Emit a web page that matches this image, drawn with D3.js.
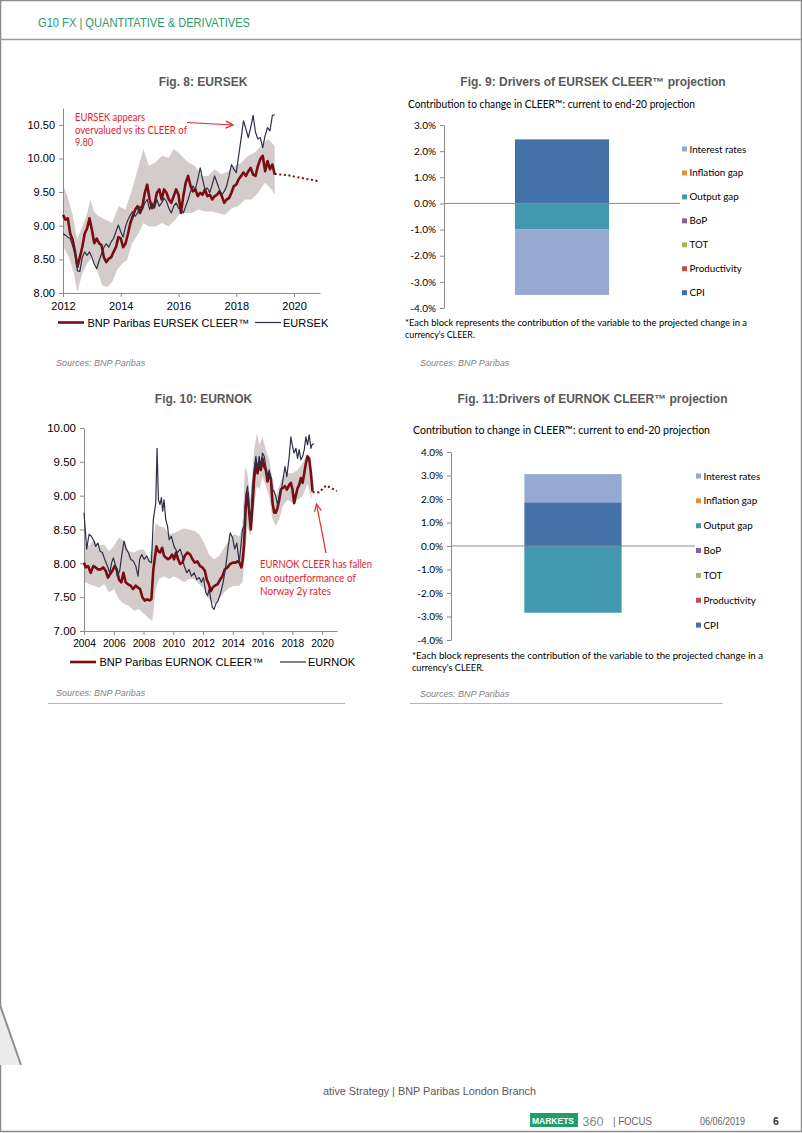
<!DOCTYPE html>
<html><head><meta charset="utf-8">
<script src="https://cdn.jsdelivr.net/npm/d3@7"></script>
<style>html,body{margin:0;padding:0;background:#fff;} svg{display:block;}</style>
</head><body>
<script>
// ---------------- DATA ----------------
// Fig 8: EURSEK, monthly from Jan 2012
const sekStartYear = 2012;
const sekSpot = [8.88, 8.86, 8.83, 8.81, 8.70, 8.58, 8.33, 8.32, 8.53, 8.61, 8.56, 8.61,
 8.53, 8.43, 8.36, 8.48, 8.58, 8.68, 8.73, 8.68, 8.76, 8.81, 8.91, 9.01,
 8.91, 8.83, 8.99, 9.09, 9.16, 9.21, 9.14, 9.19, 9.29, 9.24, 9.34, 9.39,
 9.24, 9.34, 9.26, 9.39, 9.29, 9.34, 9.41, 9.36, 9.26, 9.19, 9.29, 9.34,
 9.26, 9.24, 9.19, 9.29, 9.39, 9.51, 9.59, 9.54, 9.69, 9.86, 9.69, 9.54,
 9.56, 9.49, 9.61, 9.74, 9.64, 9.54, 9.46, 9.51, 9.59, 9.74, 9.91, 9.84,
 9.79, 10.04, 10.29, 10.56, 10.44, 10.31, 10.46, 10.64, 10.39, 10.29, 10.31, 10.16,
 10.34, 10.46, 10.41, 10.64, 10.65];
const sekCleer = [9.16, 9.09, 9.11, 8.88, 8.79, 8.61, 8.39, 8.53, 8.68, 8.88, 8.96, 9.11,
 8.94, 8.74, 8.81, 8.74, 8.71, 8.53, 8.46, 8.51, 8.53, 8.61, 8.68, 8.83,
 8.81, 8.68, 8.74, 8.88, 9.04, 9.14, 9.24, 9.29, 9.19, 9.29, 9.49, 9.61,
 9.39, 9.26, 9.31, 9.49, 9.54, 9.39, 9.54, 9.49, 9.39, 9.34, 9.44, 9.54,
 9.46, 9.19, 9.44, 9.64, 9.74, 9.59, 9.51, 9.54, 9.44, 9.49, 9.46, 9.54,
 9.44, 9.46, 9.39, 9.44, 9.46, 9.51, 9.44, 9.34, 9.39, 9.41, 9.49, 9.59,
 9.61, 9.69, 9.74, 9.79, 9.74, 9.81, 9.86, 9.76, 9.74, 9.89, 9.99, 10.04,
 9.81, 9.96, 9.84, 9.91, 9.76];
const sekProjection = [[2019.33, 9.77], [2019.8, 9.75], [2020.25, 9.71], [2020.88, 9.66]];
const sekBandUpper = [[2012.0,9.61],[2012.15,9.44],[2012.32,9.19],[2012.49,8.79],[2012.67,8.99],[2012.84,9.19],
 [2012.95,9.39],[2013.07,9.21],[2013.24,9.14],[2013.47,9.09],[2013.70,9.04],[2013.93,9.29],[2014.16,9.24],
 [2014.39,9.54],[2014.62,9.89],[2014.79,10.14],[2014.97,9.89],[2015.20,9.94],[2015.43,10.04],[2015.66,10.01],
 [2015.83,10.14],[2016.0,10.09],[2016.17,10.01],[2016.34,9.94],[2016.57,9.89],[2016.80,9.74],[2017.03,9.74],
 [2017.26,9.84],[2017.49,9.76],[2017.72,9.81],[2017.95,9.89],[2018.18,9.94],[2018.41,10.04],[2018.64,10.09],
 [2018.87,10.19],[2019.10,10.29],[2019.33,10.19]];
const sekBandLower = [[2012.0,8.69],[2012.2,8.54],[2012.38,8.29],[2012.49,8.01],[2012.67,8.29],[2012.84,8.44],
 [2013.01,8.54],[2013.18,8.34],[2013.36,8.11],[2013.53,8.09],[2013.70,8.16],[2013.87,8.34],[2014.05,8.44],
 [2014.22,8.49],[2014.39,8.74],[2014.62,8.89],[2014.79,9.04],[2014.97,8.99],[2015.2,8.99],[2015.43,9.04],
 [2015.66,8.99],[2015.89,9.09],[2016.06,9.19],[2016.23,9.19],[2016.46,9.19],[2016.69,9.24],[2016.92,9.21],
 [2017.15,9.21],[2017.38,9.19],[2017.61,9.16],[2017.84,9.26],[2018.07,9.29],[2018.30,9.39],[2018.53,9.39],
 [2018.76,9.49],[2018.99,9.64],[2019.22,9.54],[2019.33,9.46]];
const sekYTicks = [8.00, 8.50, 9.00, 9.50, 10.00, 10.50];
const sekXTicks = [2012, 2014, 2016, 2018, 2020];

// Fig 10: EURNOK
const nokSpot = [[2004.00,8.75],[2004.18,8.21],[2004.34,8.43],[2004.49,8.40],[2004.67,8.33],[2004.78,8.25],
 [2004.94,8.30],[2005.08,8.18],[2005.23,8.16],[2005.39,8.06],[2005.57,7.96],[2005.73,7.86],[2005.86,8.01],
 [2005.97,8.08],[2006.13,7.96],[2006.24,7.81],[2006.40,7.89],[2006.53,8.11],[2006.69,8.33],[2006.83,8.21],
 [2006.98,8.16],[2007.14,8.06],[2007.32,8.03],[2007.48,7.96],[2007.63,7.81],[2007.74,8.06],[2007.88,8.13],
 [2008.04,8.06],[2008.22,8.11],[2008.37,8.03],[2008.53,8.01],[2008.66,8.65],[2008.82,8.89],[2008.91,9.70],
 [2009.00,8.94],[2009.11,8.87],[2009.20,8.97],[2009.29,8.77],[2009.38,8.94],[2009.49,8.65],[2009.61,8.55],
 [2009.72,8.35],[2009.87,8.40],[2010.05,8.25],[2010.28,8.16],[2010.46,8.21],[2010.61,8.11],[2010.73,7.96],
 [2010.91,7.86],[2011.06,7.91],[2011.22,7.81],[2011.40,7.86],[2011.58,7.76],[2011.74,7.79],[2011.89,7.72],
 [2012.03,7.79],[2012.18,7.57],[2012.30,7.52],[2012.41,7.62],[2012.52,7.47],[2012.63,7.35],[2012.74,7.32],
 [2012.86,7.40],[2013.01,7.45],[2013.19,7.57],[2013.35,7.72],[2013.53,7.96],[2013.69,8.25],[2013.82,8.45],
 [2013.98,8.38],[2014.13,8.21],[2014.27,8.30],[2014.43,8.01],[2014.54,8.25],[2014.65,8.50],[2014.76,8.55],
 [2014.87,9.01],[2014.99,9.14],[2015.10,8.80],[2015.21,8.65],[2015.32,9.14],[2015.43,9.38],[2015.55,9.58],
 [2015.66,9.38],[2015.77,9.58],[2015.88,9.43],[2015.99,9.63],[2016.11,9.58],[2016.22,9.43],[2016.33,9.28],
 [2016.44,9.38],[2016.56,9.24],[2016.67,9.09],[2016.78,9.06],[2016.89,8.99],[2017.00,8.87],[2017.12,8.99],
 [2017.23,9.06],[2017.34,9.19],[2017.50,9.43],[2017.63,9.28],[2017.79,9.58],[2017.90,9.87],[2018.01,9.73],
 [2018.12,9.63],[2018.24,9.70],[2018.35,9.55],[2018.46,9.68],[2018.57,9.53],[2018.69,9.58],[2018.80,9.68],
 [2018.91,9.87],[2019.02,9.75],[2019.13,9.90],[2019.25,9.70],[2019.31,9.75],[2019.43,9.77]];
const nokCleer = [[2004.00,8.01],[2004.11,7.94],[2004.27,7.96],[2004.45,7.86],[2004.63,7.96],[2004.78,7.94],
 [2004.94,7.91],[2005.12,7.91],[2005.30,7.94],[2005.46,7.89],[2005.61,7.79],[2005.75,7.84],[2005.91,7.89],
 [2006.06,7.96],[2006.20,7.91],[2006.35,7.76],[2006.51,7.72],[2006.65,7.86],[2006.80,7.72],[2006.96,7.69],
 [2007.14,7.67],[2007.30,7.62],[2007.48,7.67],[2007.63,7.64],[2007.77,7.62],[2007.92,7.50],[2008.08,7.45],
 [2008.26,7.47],[2008.39,7.45],[2008.53,7.47],[2008.66,7.91],[2008.75,8.06],[2008.87,8.25],[2008.98,8.18],
 [2009.11,8.16],[2009.25,8.23],[2009.38,8.11],[2009.52,8.08],[2009.65,8.06],[2009.78,8.08],[2009.92,8.13],
 [2010.05,8.06],[2010.19,8.16],[2010.32,8.06],[2010.46,7.99],[2010.61,8.01],[2010.77,8.11],[2010.95,8.16],
 [2011.13,8.13],[2011.29,8.06],[2011.44,8.01],[2011.62,8.03],[2011.80,7.96],[2011.96,7.94],[2012.12,7.89],
 [2012.25,7.76],[2012.39,7.69],[2012.52,7.59],[2012.65,7.64],[2012.79,7.67],[2012.97,7.69],[2013.15,7.76],
 [2013.30,7.81],[2013.46,7.91],[2013.64,7.94],[2013.82,7.99],[2014.00,8.01],[2014.18,8.01],[2014.31,8.03],
 [2014.45,8.01],[2014.58,7.94],[2014.67,8.06],[2014.76,8.30],[2014.87,8.84],[2014.99,9.04],[2015.10,8.75],
 [2015.21,8.50],[2015.32,8.84],[2015.43,9.24],[2015.55,9.48],[2015.66,9.33],[2015.77,9.50],[2015.88,9.38],
 [2015.99,9.55],[2016.11,9.43],[2016.22,9.38],[2016.33,9.21],[2016.44,9.33],[2016.56,9.24],[2016.67,8.89],
 [2016.78,8.75],[2016.89,8.75],[2017.00,8.82],[2017.12,8.94],[2017.23,9.09],[2017.34,9.11],[2017.50,9.14],
 [2017.63,9.09],[2017.79,9.16],[2017.90,9.19],[2018.01,9.09],[2018.12,8.89],[2018.24,9.01],[2018.35,9.11],
 [2018.46,9.16],[2018.57,9.26],[2018.69,9.19],[2018.80,9.33],[2018.91,9.48],[2019.02,9.58],[2019.13,9.55],
 [2019.25,9.33],[2019.36,9.06]];
const nokProjection = [[2019.36, 9.05], [2019.8, 9.05], [2020.26, 9.15], [2021.0, 9.07]];
const nokBandUpper = [[2004.00,8.30],[2004.34,8.26],[2004.67,8.35],[2005.01,8.26],[2005.35,8.28],[2005.68,8.18],
 [2006.02,8.26],[2006.35,8.38],[2006.69,8.33],[2007.03,8.18],[2007.36,8.16],[2007.70,8.20],[2008.04,8.20],
 [2008.37,8.06],[2008.60,8.25],[2008.82,8.60],[2009.04,8.55],[2009.38,8.53],[2009.72,8.43],[2010.05,8.45],
 [2010.39,8.48],[2010.73,8.52],[2011.06,8.50],[2011.40,8.48],[2011.74,8.43],[2012.07,8.30],[2012.41,8.13],
 [2012.74,8.06],[2013.08,8.11],[2013.42,8.23],[2013.75,8.35],[2014.09,8.43],[2014.43,8.40],[2014.65,8.55],
 [2014.81,9.43],[2014.99,9.33],[2015.17,8.94],[2015.43,9.68],[2015.61,9.92],[2015.79,9.75],[2015.99,9.87],
 [2016.22,9.68],[2016.44,9.53],[2016.67,9.24],[2016.89,8.99],[2017.12,9.14],[2017.34,9.28],[2017.68,9.33],
 [2018.01,9.33],[2018.35,9.38],[2018.69,9.48],[2019.02,9.63],[2019.29,9.38]];
const nokBandLower = [[2004.00,7.74],[2004.34,7.69],[2004.67,7.67],[2005.01,7.64],[2005.35,7.69],[2005.68,7.57],
 [2006.02,7.62],[2006.35,7.47],[2006.69,7.40],[2007.03,7.37],[2007.36,7.30],[2007.70,7.32],[2008.04,7.25],
 [2008.37,7.18],[2008.60,7.15],[2008.82,7.62],[2009.04,7.77],[2009.38,7.81],[2009.72,7.77],[2010.05,7.81],
 [2010.39,7.77],[2010.73,7.72],[2011.06,7.77],[2011.40,7.77],[2011.74,7.69],[2012.07,7.62],[2012.41,7.47],
 [2012.74,7.40],[2013.08,7.47],[2013.42,7.57],[2013.75,7.64],[2014.09,7.67],[2014.43,7.67],[2014.65,7.72],
 [2014.81,8.11],[2014.99,8.55],[2015.17,8.40],[2015.43,8.84],[2015.61,9.14],[2015.79,9.09],[2015.99,9.28],
 [2016.22,9.14],[2016.44,8.99],[2016.67,8.65],[2016.89,8.55],[2017.12,8.65],[2017.34,8.84],[2017.68,8.94],
 [2018.01,8.89],[2018.35,8.94],[2018.69,8.99],[2019.02,9.18],[2019.29,8.94]];
const nokYTicks = [7.00, 7.50, 8.00, 8.50, 9.00, 9.50, 10.00];
const nokXTicks = [2004, 2006, 2008, 2010, 2012, 2014, 2016, 2018, 2020];

// Figs 9 and 11: drivers of CLEER projection (% contribution)
const driverKeys = ["Interest rates", "Inflation gap", "Output gap", "BoP", "TOT", "Productivity", "CPI"];
const driverColors = ["#95A9D1", "#E48F3B", "#4298AE", "#7E62A0", "#9BBB59", "#C0504D", "#4471A8"];
const sekDrivers = [-2.5, 0, -1.0, 0, 0, 0, 2.45];
const nokDrivers = [1.2, 0, -2.84, 0, 0, 0, 1.86];
const sekDriverTicks = [-4, -3, -2, -1, 0, 1, 2, 3];
const nokDriverTicks = [-4, -3, -2, -1, 0, 1, 2, 3, 4];

// ---------------- DRAWING ----------------
const ARIAL = "'Liberation Sans', Arial, sans-serif";
const NARROW = "'Liberation Sans Narrow', 'Arial Narrow', 'Liberation Sans', sans-serif";
const CALIBRI = "Lato, 'Open Sans', sans-serif";
const AXIS = "#8a8a8a";
const RED = "#7A0C12";
const NAVY = "#2D3048";
const ANNO = "#E8232B";

const svg = d3.select("body").append("svg").attr("width", 802).attr("height", 1133);
svg.append("rect").attr("width", 802).attr("height", 1133).attr("fill", "#fff");

function txt(g, s, x, y, o = {}) {
  const t = g.append("text").attr("x", x).attr("y", y).text(s)
    .attr("font-family", o.font || ARIAL).attr("font-size", o.size || 11)
    .attr("fill", o.fill || "#000");
  if (o.anchor) t.attr("text-anchor", o.anchor);
  if (o.weight) t.attr("font-weight", o.weight);
  if (o.style) t.attr("font-style", o.style);
  if (o.width) t.attr("textLength", o.width).attr("lengthAdjust", "spacingAndGlyphs");
  return t;
}
function arrow(g, x1, y1, x2, y2) {
  g.append("line").attr("x1", x1).attr("y1", y1).attr("x2", x2).attr("y2", y2)
    .attr("stroke", ANNO).attr("stroke-width", 1.2);
  const a = Math.atan2(y2 - y1, x2 - x1), L = 8, s = 0.45;
  g.append("path").attr("d", `M${x2 - L * Math.cos(a - s)},${y2 - L * Math.sin(a - s)}L${x2},${y2}L${x2 - L * Math.cos(a + s)},${y2 - L * Math.sin(a + s)}`)
    .attr("fill", "none").attr("stroke", ANNO).attr("stroke-width", 1.2);
}
function styleAxis(sel, size) {
  sel.selectAll("path,line").attr("stroke", AXIS);
  sel.selectAll("text").attr("font-family", ARIAL).attr("font-size", size).attr("fill", "#000");
}

// page frame
svg.append("rect").attr("x", 0.5).attr("y", 0.5).attr("width", 801).attr("height", 1131)
  .attr("fill", "none").attr("stroke", "#8c8c8c").attr("stroke-width", 1.5);
svg.append("line").attr("x1", 0).attr("x2", 802).attr("y1", 39.5).attr("y2", 39.5)
  .attr("stroke", "#9a9a9a").attr("stroke-width", 1.5);
txt(svg, "G10 FX | QUANTITATIVE & DERIVATIVES", 38, 26.5, { font: NARROW, size: 12.5, fill: "#2A9A6C", width: 212 });

// decorative corner
svg.append("path").attr("d", "M0,1005L22,1065L0,1065Z").attr("fill", "#ececec");
svg.append("line").attr("x1", 0).attr("y1", 1005).attr("x2", 21).attr("y2", 1065)
  .attr("stroke", "#8f8f8f").attr("stroke-width", 2);

// footer
txt(svg, "ative Strategy | BNP Paribas London Branch", 323, 1095, { font: NARROW, size: 11.5, fill: "#595959", width: 213 });
svg.append("rect").attr("x", 530).attr("y", 1113).attr("width", 48).attr("height", 14).attr("fill", "#1E9E6B");
txt(svg, "MARKETS", 532, 1124, { font: NARROW, size: 9.5, fill: "#fff", weight: "bold", width: 42 });
txt(svg, "360", 582.5, 1126, { font: NARROW, size: 13, fill: "#8a8a8a", width: 21 });
txt(svg, "| FOCUS", 613, 1125, { font: NARROW, size: 10.5, fill: "#666", width: 39 });
txt(svg, "06/06/2019", 700, 1125, { font: NARROW, size: 10.5, fill: "#666", width: 45 });
txt(svg, "6", 773, 1125, { font: ARIAL, size: 10.5, fill: "#333", weight: "bold" });

// separators
svg.append("line").attr("x1", 48).attr("x2", 345).attr("y1", 703.5).attr("y2", 703.5).attr("stroke", "#b5b5b5");
svg.append("line").attr("x1", 410).attr("x2", 723).attr("y1", 703.5).attr("y2", 703.5).attr("stroke", "#b5b5b5");

// ---------- line chart ----------
function lineChart(c) {
  const g = svg.append("g");
  const x = d3.scaleLinear().domain(c.xDomain).range(c.xRange);
  const y = d3.scaleLinear().domain(c.yDomain).range(c.yRange);
  const ln = d3.line().x(d => x(d[0])).y(d => y(d[1]));

  txt(g, c.title, c.titleX, c.titleY, { size: 12, weight: "bold", fill: "#595959", anchor: "middle" });

  const band = c.bandUpper.concat(c.bandLower.slice().reverse());
  g.append("path").attr("d", ln(band) + "Z").attr("fill", "#D3CCCB");

  const ya = g.append("g").attr("transform", `translate(${c.xRange[0]},0)`)
    .call(d3.axisLeft(y).tickValues(c.yTicks).tickFormat(d3.format(".2f")).tickSize(4).tickPadding(4).tickSizeOuter(0));
  styleAxis(ya, c.yFont);
  const xa = g.append("g").attr("transform", `translate(0,${c.yRange[0]})`)
    .call(d3.axisBottom(x).tickValues(c.xTicks).tickFormat(d3.format("d")).tickSize(4).tickPadding(5).tickSizeOuter(0));
  styleAxis(xa, c.xFont);

  g.append("path").attr("d", ln(c.cleer)).attr("fill", "none").attr("stroke", RED)
    .attr("stroke-width", 2.6).attr("stroke-linejoin", "round");
  g.append("path").attr("d", ln(c.projection)).attr("fill", "none").attr("stroke", RED)
    .attr("stroke-width", 2).attr("stroke-dasharray", "2,2.6");
  g.append("path").attr("d", ln(c.spot)).attr("fill", "none").attr("stroke", NAVY)
    .attr("stroke-width", 1.2).attr("stroke-linejoin", "round");

  // legend
  const L = c.legend;
  g.append("line").attr("x1", L.x1).attr("x2", L.x1 + 26).attr("y1", L.y).attr("y2", L.y)
    .attr("stroke", RED).attr("stroke-width", 2.6);
  txt(g, L.label1, L.x1 + 29.5, L.y + 4, { size: 11, fill: "#000" });
  g.append("line").attr("x1", L.x2).attr("x2", L.x2 + 26).attr("y1", L.y).attr("y2", L.y)
    .attr("stroke", NAVY).attr("stroke-width", 1.2);
  txt(g, L.label2, L.x2 + 28, L.y + 4, { size: 11, fill: "#000" });

  txt(g, "Sources: BNP Paribas", 56, c.sourceY, { size: 9, style: "italic", fill: "#7f7f7f" });
  return g;
}

const g8 = lineChart({
  title: "Fig. 8: EURSEK", titleX: 203, titleY: 86,
  xDomain: [2012, 2020.9], xRange: [63, 320],
  yDomain: [8, 10.75], yRange: [293, 108],
  yTicks: sekYTicks, xTicks: sekXTicks, yFont: 11, xFont: 11,
  spot: sekSpot.map((v, i) => [sekStartYear + i / 12, v]),
  cleer: sekCleer.map((v, i) => [sekStartYear + i / 12, v]),
  projection: sekProjection, bandUpper: sekBandUpper, bandLower: sekBandLower,
  legend: { x1: 58, x2: 255, y: 322.5, label1: "BNP Paribas EURSEK CLEER™", label2: "EURSEK" },
  sourceY: 365.5
});
txt(g8, "EURSEK appears", 75, 120.5, { font: CALIBRI, size: 11, fill: ANNO, width: 70 });
txt(g8, "overvalued vs its CLEER of", 75, 134, { font: CALIBRI, size: 11, fill: ANNO, width: 112 });
txt(g8, "9.80", 75, 145.5, { font: CALIBRI, size: 11, fill: ANNO, width: 18 });
arrow(g8, 187, 122.5, 233, 125);

const g10 = lineChart({
  title: "Fig. 10: EURNOK", titleX: 203.5, titleY: 403,
  xDomain: [2004, 2021], xRange: [84, 337],
  yDomain: [7, 10], yRange: [631, 428],
  yTicks: nokYTicks, xTicks: nokXTicks, yFont: 11.5, xFont: 10.2,
  spot: nokSpot, cleer: nokCleer, projection: nokProjection,
  bandUpper: nokBandUpper, bandLower: nokBandLower,
  legend: { x1: 70, x2: 280, y: 662, label1: "BNP Paribas EURNOK CLEER™", label2: "EURNOK" },
  sourceY: 696
});
txt(g10, "EURNOK CLEER has fallen", 260, 568, { font: CALIBRI, size: 11, fill: ANNO, width: 112 });
txt(g10, "on outperformance of", 260, 581.5, { font: CALIBRI, size: 11, fill: ANNO, width: 96 });
txt(g10, "Norway 2y rates", 260, 595, { font: CALIBRI, size: 11, fill: ANNO, width: 71 });
arrow(g10, 326, 553, 316.5, 504);

// ---------- stacked bar chart ----------
const stackKeys = driverKeys.slice().reverse();
function barChart(c) {
  const g = svg.append("g");
  const y = d3.scaleLinear().domain(c.yDomain).range(c.yRange);
  const x = d3.scaleBand().domain([c.cat]).range(c.xRange).paddingInner(0.43).paddingOuter(0.43);
  const row = { cat: c.cat };
  driverKeys.forEach((k, i) => row[k] = c.values[i]);
  const series = d3.stack().keys(stackKeys).offset(d3.stackOffsetDiverging)([row]);
  const color = d3.scaleOrdinal().domain(driverKeys).range(driverColors);

  txt(g, c.title, c.titleX, c.titleY, { size: 12, weight: "bold", fill: "#595959", anchor: "middle" });
  txt(g, "Contribution to change in CLEER™: current to end-20 projection", c.subX, c.subY,
    { font: CALIBRI, size: 11, fill: "#000", width: c.subW });

  series.forEach(s => {
    s.forEach(d => {
      const h = Math.abs(y(d[0]) - y(d[1]));
      if (h < 0.01) return;
      g.append("rect").attr("x", x(d.data.cat)).attr("width", x.bandwidth())
        .attr("y", Math.min(y(d[0]), y(d[1]))).attr("height", h).attr("fill", color(s.key));
    });
  });

  const ya = g.append("g").attr("transform", `translate(${c.xRange[0]},0)`)
    .call(d3.axisLeft(y).tickValues(c.ticks).tickFormat(d => d.toFixed(1) + "%").tickSize(4).tickPadding(4).tickSizeOuter(0));
  ya.selectAll("path,line").attr("stroke", AXIS);
  ya.selectAll("text").attr("font-family", CALIBRI).attr("font-size", 10).attr("fill", "#000");
  g.append("line").attr("x1", c.xRange[0]).attr("x2", c.xRange[1]).attr("y1", y(0)).attr("y2", y(0))
    .attr("stroke", AXIS);

  driverKeys.forEach((k, i) => {
    const cy = c.legY + i * c.legStep;
    g.append("rect").attr("x", c.legX).attr("y", cy - 2.5).attr("width", 5).attr("height", 5).attr("fill", color(k));
    txt(g, k, c.legX + 7.5, cy + 3.5, { font: CALIBRI, size: 9.8, fill: "#000" });
  });

  txt(g, "*Each block represents the contribution of the variable to the projected change in a", c.noteX, c.noteY,
    { font: CALIBRI, size: 9.2, fill: "#000", width: c.noteW });
  txt(g, "currency's CLEER.", c.noteX, c.noteY + 12.6, { font: CALIBRI, size: 9.2, fill: "#000", width: c.noteW2 });
  txt(g, "Sources: BNP Paribas", 420, c.sourceY, { size: 9, style: "italic", fill: "#7f7f7f" });
}

barChart({
  cat: "EURSEK", values: sekDrivers, ticks: sekDriverTicks,
  title: "Fig. 9: Drivers of EURSEK CLEER™ projection", titleX: 593, titleY: 86,
  subX: 408, subY: 107.5, subW: 287,
  yDomain: [-4, 3], yRange: [308, 125], xRange: [444, 680],
  legX: 682, legY: 149, legStep: 23.95,
  noteX: 405, noteY: 325.5, noteW: 342, noteW2: 70, sourceY: 365.5
});
barChart({
  cat: "EURNOK", values: nokDrivers, ticks: nokDriverTicks,
  title: "Fig. 11:Drivers of EURNOK CLEER™ projection", titleX: 592.5, titleY: 403,
  subX: 413, subY: 433.5, subW: 297,
  yDomain: [-4, 4], yRange: [640, 452], xRange: [451, 695],
  legX: 696, legY: 476, legStep: 24.85,
  noteX: 412, noteY: 658.5, noteW: 351, noteW2: 72, sourceY: 696.5
});
</script>
</body></html>
